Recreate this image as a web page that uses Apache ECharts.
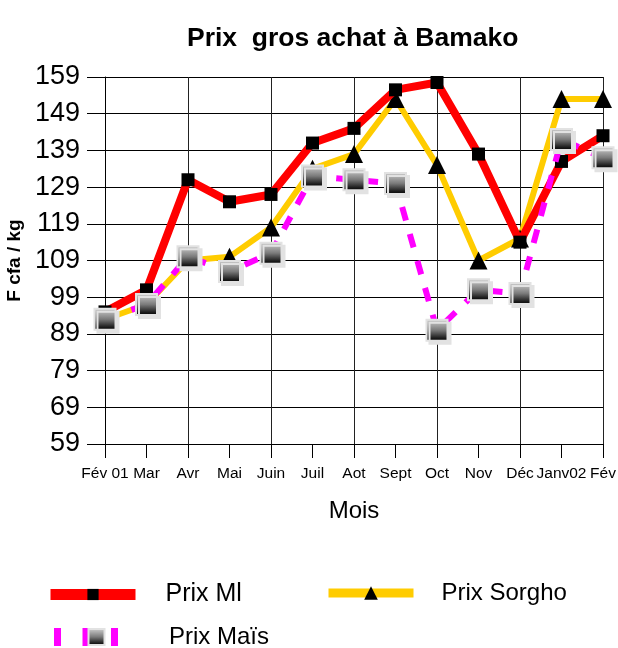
<!DOCTYPE html>
<html>
<head>
<meta charset="utf-8">
<script src="https://cdn.jsdelivr.net/npm/echarts@6/dist/echarts.min.js"></script>
<style>
  html, body { margin: 0; padding: 0; background: #fff; }
  #chart { width: 618px; height: 648px; }
</style>
</head>
<body>
<div id="chart"></div>
<script>
// données
const mois = ['Fév 01', 'Mar', 'Avr', 'Mai', 'Juin', 'Juil', 'Aot', 'Sept', 'Oct', 'Nov', 'Déc', 'Janv02', 'Fév'];
const prixMil = [95, 101, 131, 125, 127, 141, 145, 155.5, 157.5, 138, 114, 136, 143];
const prixSorgho = [93, 97, 109, 110, 118, 134, 138, 153, 135, 109, 115, 153, 153];
const prixMais = [93, 97, 110, 106, 111, 132, 131, 130, 90, 101, 100, 142, 137];
const yMin = 59;
const yMax = 159;
const yStep = 10;

const font = "'Liberation Sans', Arial, sans-serif";

const chart = echarts.init(document.getElementById('chart'));

const maisFill = new echarts.graphic.LinearGradient(0, 0, 0, 1, [
  { offset: 0, color: '#d4d4d4' },
  { offset: 0.5, color: '#7a7a7a' },
  { offset: 0.85, color: '#1a1a1a' },
  { offset: 1, color: '#000' }
]);

const option = {
  backgroundColor: '#fff',
  animation: false,
  textStyle: { fontFamily: font },
  title: {
    text: 'Prix  gros achat à Bamako',
    left: 182,
    top: 20,
    textStyle: { fontFamily: font, fontSize: 26.5, fontWeight: 'bold', color: '#000' }
  },
  grid: { left: 105, right: 15, top: 77, height: 367, outerBoundsMode: 'none', containLabel: false },
  legend: [
    {
      data: ['Prix Ml'],
      left: 40, top: 577,
      itemWidth: 85, itemHeight: 14,
      lineStyle: { width: 11 },
      textStyle: { fontFamily: font, fontSize: 25, color: '#000', padding: [0, 0, 0, 25] }
    },
    {
      data: ['Prix Sorgho'],
      left: 319, top: 576,
      itemWidth: 85, itemHeight: 17,
      lineStyle: { width: 9 },
      textStyle: { fontFamily: font, fontSize: 24, color: '#000', padding: [0, 0, 0, 23] }
    },
    {
      data: ['Prix Maïs'],
      left: 40, top: 620,
      itemWidth: 85, itemHeight: 20,
      lineStyle: { width: 18, type: [7, 21.5] },
      textStyle: { fontFamily: font, fontSize: 24, color: '#000', padding: [0, 0, 0, 25] }
    }
  ],
  xAxis: {
    type: 'category',
    data: mois,
    boundaryGap: false,
    name: 'Mois',
    nameLocation: 'middle',
    nameGap: 55,
    nameTextStyle: { fontFamily: font, fontSize: 24, color: '#000' },
    axisLine: { lineStyle: { color: '#000', width: 1 } },
    axisTick: { show: true, interval: 0, length: 14, lineStyle: { color: '#000' } },
    axisLabel: { interval: 0, fontFamily: font, fontSize: 15.5, color: '#000', margin: 22 },
    splitLine: { show: true, interval: 1, lineStyle: { color: '#222', width: 1 } }
  },
  yAxis: {
    type: 'value',
    min: yMin,
    max: yMax,
    interval: yStep,
    name: 'F cfa / kg',
    nameLocation: 'middle',
    nameGap: 70,
    nameTextStyle: { fontFamily: font, fontSize: 19, fontWeight: 'bold', color: '#000' },
    axisLine: { show: true, lineStyle: { color: '#000', width: 1 } },
    axisTick: { show: true, length: 18, lineStyle: { color: '#000' } },
    axisLabel: { fontFamily: font, fontSize: 27, color: '#000', margin: 25 },
    splitLine: { show: true, lineStyle: { color: '#000', width: 1 } }
  },
  series: [
    {
      name: 'Prix Ml',
      type: 'line',
      data: prixMil,
      z: 3,
      symbol: 'rect',
      symbolSize: 13,
      itemStyle: { color: '#000' },
      lineStyle: { color: '#ff0000', width: 8 }
    },
    {
      name: 'Prix Sorgho',
      type: 'line',
      data: prixSorgho,
      z: 2,
      symbol: 'triangle',
      symbolSize: 18,
      itemStyle: { color: '#000' },
      lineStyle: { color: '#ffcc00', width: 6 }
    },
    {
      name: 'Prix Maïs',
      type: 'line',
      data: prixMais,
      z: 4,
      symbol: 'rect',
      symbolSize: 21,
      itemStyle: {
        color: maisFill,
        borderColor: '#e2e2e2',
        borderWidth: 2,
        shadowColor: '#e2e2e2',
        shadowBlur: 0,
        shadowOffsetX: 3,
        shadowOffsetY: 3
      },
      lineStyle: { color: '#ff00ff', width: 6, type: [14, 14] }
    }
  ]
};

chart.setOption(option);
</script>
</body>
</html>
